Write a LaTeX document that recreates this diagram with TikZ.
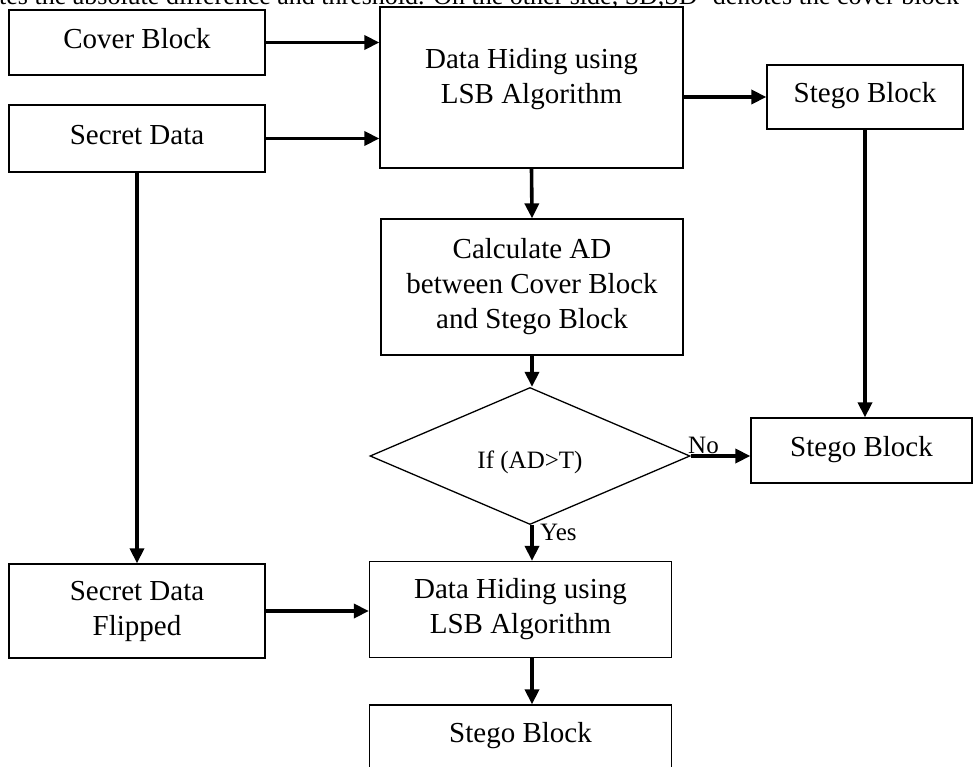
\documentclass[tikz,border=0pt]{standalone}
\usepackage{fontspec}
\setmainfont{Liberation Serif}
\usetikzlibrary{arrows.meta,shapes.geometric}
\begin{document}
\begin{tikzpicture}[x=1pt,y=-1pt,
  box/.style={draw, line width=1.3pt, inner sep=0pt, font=\fontsize{29}{35}\selectfont, align=center},
  one/.style={text height=20pt, text depth=8.5pt},
  arr/.style={line width=3.6pt, -{Triangle[length=15pt,width=14pt]}},
  lbl/.style={font=\fontsize{25}{30}\selectfont, inner sep=0pt}]
\useasboundingbox (0,0) rectangle (976,767);

\node[font=\fontsize{26}{30}\selectfont, inner sep=0pt, anchor=base west] (cut) at (-1,5) {tes the absolute difference and threshold. On the other side, SD,SD' denotes the cover block};

\node[box,one,minimum width=256pt,minimum height=65pt] (cover) at (137,42.5) {Cover Block};
\node[box,one,minimum width=256pt,minimum height=67pt] (secret) at (137,138.5) {Secret Data};
\node[box,minimum width=303pt,minimum height=161pt] (hide1) at (531.5,87.5) {Data Hiding using\\LSB Algorithm\rule[-24pt]{0pt}{24pt}};
\node[box,one,minimum width=196pt,minimum height=64pt] (stego1) at (865,97) {Stego Block};
\node[box,minimum width=302pt,minimum height=136pt] (calc) at (532,287) {Calculate AD\\between Cover Block\\and Stego Block};
\node[draw,diamond,line width=1.3pt,inner sep=0pt,minimum width=320pt,minimum height=102pt,font=\fontsize{25}{30}\selectfont,text height=28pt,text depth=4pt] (dec) at (530,456) {If (AD>T)};
\node[box,one,minimum width=221pt,minimum height=65pt] (stego2) at (861.5,450.5) {Stego Block};
\node[box,minimum width=302pt,minimum height=96pt] (hide2) at (520.5,609.5) {Data Hiding using\\LSB Algorithm};
\node[box,minimum width=256pt,minimum height=94pt] (flip) at (137,611) {Secret Data\\Flipped};
\node[box,minimum width=302pt,minimum height=70pt,text height=20pt,text depth=15pt] (stego3) at (520.5,740) {Stego Block};

\draw[arr] (cover.east) -- (cover.east -| hide1.west);
\draw[arr] (secret.east) -- (secret.east -| hide1.west);
\draw[arr] (hide1.east |- stego1.west) -- (stego1.west);
\draw[arr] (hide1.south) -- (calc.north);
\draw[arr] (calc.south) -- (calc.south |- dec.north);
\draw[arr] (stego1.south) -- (stego1.south |- stego2.north);
\draw[arr] (dec.east) -- (dec.east -| stego2.west);
\draw[arr] (calc.south |- dec.south) -- (calc.south |- hide2.north);
\draw[arr] (calc.south |- hide2.south) -- (calc.south |- stego3.north);
\draw[arr] (secret.south) -- (flip.north);
\draw[arr] (flip.east) -- (flip.east -| hide2.west);

\node[lbl, anchor=base west] (no) at (688,453) {No};
\node[lbl, anchor=base west] (yes) at (540,540) {Yes};
\end{tikzpicture}
\end{document}
